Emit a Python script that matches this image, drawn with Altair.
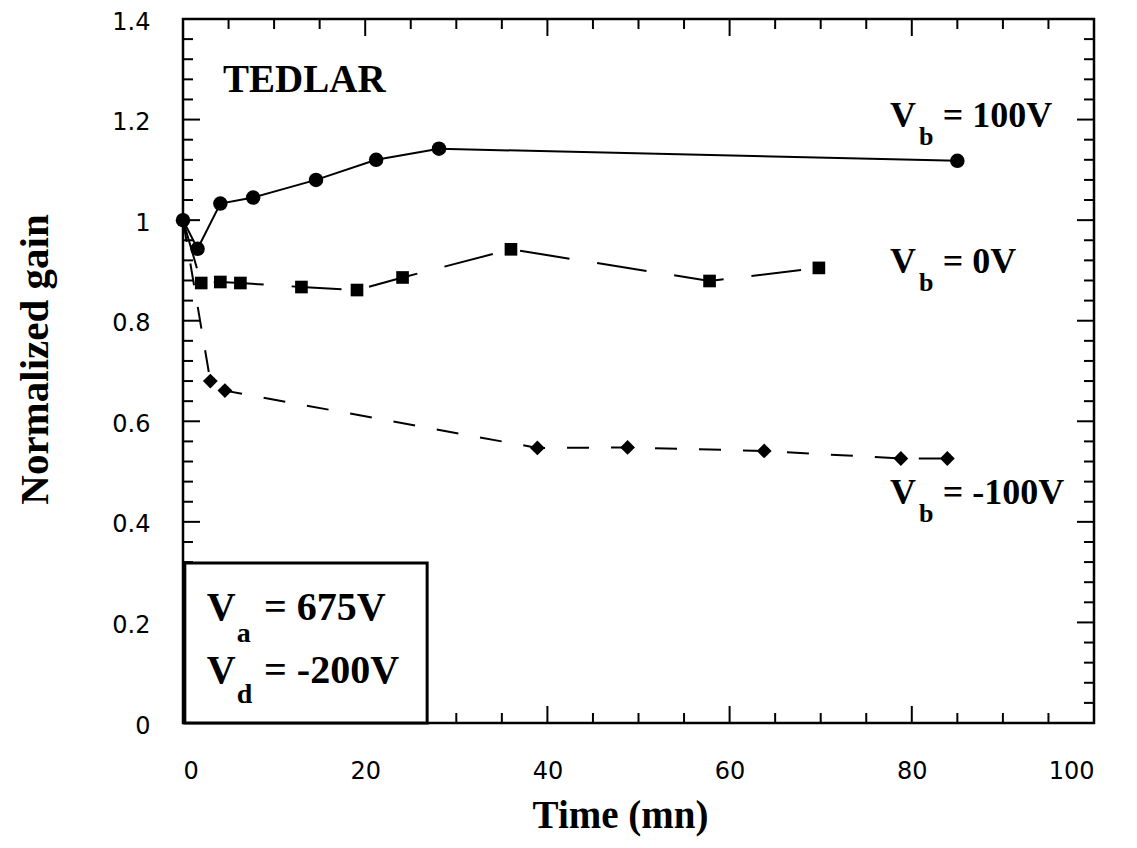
import altair as alt
import pandas as pd

W, H = 911, 704

# ---- data ----
t_pos = [0, 1.6, 4.1, 7.7, 14.6, 21.2, 28.1, 85.0]
g_pos = [1.0, 0.943, 1.033, 1.045, 1.08, 1.12, 1.142, 1.118]

t_zero = [0, 2.0, 4.1, 6.3, 13.0, 19.1, 24.1, 36.0, 57.8, 69.8]
g_zero = [1.0, 0.875, 0.877, 0.875, 0.867, 0.861, 0.886, 0.942, 0.879, 0.905]

t_neg = [0, 3.0, 4.6, 38.9, 48.8, 63.8, 78.8, 83.9]
g_neg = [1.0, 0.68, 0.661, 0.547, 0.548, 0.541, 0.526, 0.526]

x_major = [0, 20, 40, 60, 80, 100]
x_minor = [v for v in range(0, 101, 5) if v % 20 != 0]
y_major = [0, 0.2, 0.4, 0.6, 0.8, 1.0, 1.2, 1.4]
y_minor = [round(i * 0.04, 2) for i in range(36) if i % 5 != 0]

SERIF = "Liberation Serif"
SANS = "DejaVu Sans"

xs = alt.Scale(domain=[0, 100], nice=False, zero=False)
ys = alt.Scale(domain=[0, 1.4], nice=False, zero=False)

x_axis = alt.Axis(values=x_major, format="d", grid=False, domain=False, ticks=False,
                  tickSize=0, labelPadding=36, labelFont=SANS, labelFontSize=24,
                  labelColor="black", title="Time (mn)", titleFont=SERIF,
                  titleFontSize=39, titleFontWeight="bold", titleColor="black",
                  titleX=437, titleY=104, titleBaseline="alphabetic", titleAlign="center")
y_axis = alt.Axis(values=y_major, format=".1~f", grid=False, domain=False, ticks=False,
                  tickSize=0, labelPadding=33, labelOffset=3, labelFont=SANS,
                  labelFontSize=24, labelColor="black", title="Normalized gain",
                  titleFont=SERIF, titleFontSize=41, titleFontWeight="bold",
                  titleColor="black", titleX=-136, titleY=340,
                  titleBaseline="alphabetic", titleAlign="center", titleAngle=270)


def X(f):
    return alt.X(f, scale=xs, axis=x_axis)


def Y(f):
    return alt.Y(f, scale=ys, axis=y_axis)


def series(ts, gs, shape, size, dash, skip_first):
    df = pd.DataFrame({"t": ts, "g": gs})
    base = alt.Chart(df)
    line_kw = dict(color="black", strokeWidth=2)
    if dash:
        line_kw["strokeDash"] = dash
    line = base.mark_line(**line_kw).encode(x=X("t:Q"), y=Y("g:Q"))
    pbase = base.transform_filter("datum.t > 0") if skip_first else base
    pts = pbase.mark_point(shape=shape, size=size, filled=True, color="black",
                           opacity=1).encode(x=X("t:Q"), y=Y("g:Q"))
    return line, pts


l1, p1 = series(t_pos, g_pos, "circle", 210, None, False)
l2, p2 = series(t_zero, g_zero, "square", 160, [50, 28], True)
l3, p3 = series(t_neg, g_neg, "diamond", 220, [22, 22], True)


def yticks(vals, length):
    d = alt.Chart(pd.DataFrame({"v": vals}))
    left = d.mark_rule(color="black", strokeWidth=2).encode(
        y=Y("v:Q"), x=alt.value(0), x2=alt.value(length))
    right = d.mark_rule(color="black", strokeWidth=2).encode(
        y=Y("v:Q"), x=alt.value(W - length), x2=alt.value(W))
    return [left, right]


def xticks(vals, length):
    d = alt.Chart(pd.DataFrame({"v": vals}))
    bottom = d.mark_rule(color="black", strokeWidth=2).encode(
        x=X("v:Q"), y=alt.value(H - length), y2=alt.value(H))
    top = d.mark_rule(color="black", strokeWidth=2).encode(
        x=X("v:Q"), y=alt.value(0), y2=alt.value(length))
    return [bottom, top]


ticks = yticks(y_major, 17) + yticks(y_minor, 10) + xticks(x_major, 17) + xticks(x_minor, 10)

# box with Va / Vd
box = alt.Chart(pd.DataFrame({"x": [0.2], "x2": [26.8], "y": [0], "y2": [0.318]})).mark_rect(
    fill="white", stroke="black", strokeWidth=3).encode(
    x=X("x:Q"), x2="x2:Q", y=Y("y:Q"), y2="y2:Q")


def texts(xv, yv, labels, size):
    df = pd.DataFrame({"x": xv, "y": yv, "s": labels})
    return alt.Chart(df).mark_text(font=SERIF, fontWeight="bold", fontSize=size, color="black",
                                   align="left", baseline="alphabetic").encode(
        x=X("x:Q"), y=Y("y:Q"), text="s:N")


tedlar = texts([4.4], [1.255], ["TEDLAR"], 39)
vb_main = texts([77.6, 77.6, 77.6], [1.185, 0.895, 0.436], ["V", "V", "V"], 36)
vb_sub = texts([80.8, 80.8, 80.8], [1.149, 0.859, 0.400], ["b", "b", "b"], 26)
vb_rest = texts([83.4, 83.4, 83.4], [1.185, 0.895, 0.436], ["= 100V", "= 0V", "= -100V"], 36)
box_main = texts([2.6, 2.6], [0.205, 0.080], ["V", "V"], 40)
box_sub = texts([5.9, 5.9], [0.161, 0.040], ["a", "d"], 28)
box_rest = texts([8.9, 8.9], [0.205, 0.080], ["= 675V", "= -200V"], 40)

chart = alt.layer(
    *ticks, l1, l2, l3, p2, p3, p1, box,
    tedlar, vb_main, vb_sub, vb_rest, box_main, box_sub, box_rest
).properties(
    width=W, height=H,
    padding={"left": 175, "top": 11, "right": 35, "bottom": 114},
    autosize=alt.AutoSizeParams(type="none"),
    background="white",
).configure_view(stroke="black", strokeWidth=2.5)

chart.save("out.html", embed_options={"renderer": "svg", "actions": False})
